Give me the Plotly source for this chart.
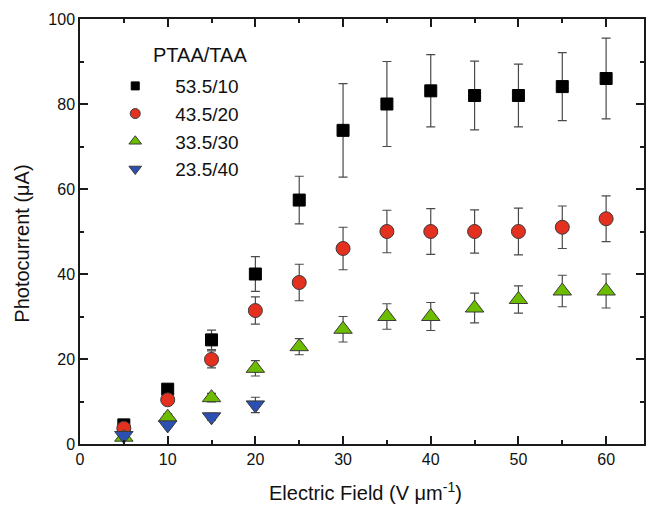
import plotly.graph_objects as go

# Data
field = [5, 10, 15, 20, 25, 30, 35, 40, 45, 50, 55, 60]
field_blue = [5, 10, 15, 20]

labels = ["53.5/10", "43.5/20", "33.5/30", "23.5/40"]

i_535 = [4.5, 12.9, 24.5, 40.0, 57.4, 73.8, 80.0, 83.1, 82.0, 82.0, 84.1, 86.0]
e_535 = [0.5, 1.0, 2.3, 4.1, 5.6, 11.0, 10.0, 8.5, 8.1, 7.4, 8.0, 9.5]

i_435 = [3.7, 10.4, 19.9, 31.4, 38.0, 46.0, 50.0, 50.0, 50.0, 50.0, 51.0, 53.0]
e_435 = [0.5, 0.8, 2.0, 3.2, 4.3, 5.0, 5.0, 5.4, 5.1, 5.5, 5.0, 5.4]

i_335 = [1.6, 6.3, 10.9, 17.8, 22.9, 27.0, 30.0, 30.0, 32.0, 34.0, 36.0, 36.0]
e_335 = [0.4, 0.8, 1.0, 1.8, 1.9, 3.0, 3.0, 3.3, 3.5, 3.2, 3.7, 4.0]

i_235 = [2.0, 4.5, 6.4, 9.2]
e_235 = [0.4, 0.6, 0.8, 1.8]

colors = ["#000000", "#e3301f", "#6cbd00", "#2c4fb3"]
edges = ["#000000", "#3a3a3a", "#3a3a3a", "#3a3a3a"]
symbols = ["square", "circle", "triangle-up", "triangle-down"]
sizes = [12, 14, 16, 16]
legend_sizes = [8, 10, 11, 11]

series = [
    (field, i_535, e_535),
    (field, i_435, e_435),
    (field, i_335, e_335),
    (field_blue, i_235, e_235),
]

fig = go.Figure()

for k, (xs, ys, es) in enumerate(series):
    fig.add_trace(go.Scatter(
        x=xs, y=ys, mode="markers", name=labels[k], showlegend=False,
        marker=dict(symbol=symbols[k], size=sizes[k], color=colors[k],
                    line=dict(color=edges[k], width=1)),
        error_y=dict(type="data", array=es, visible=True, color="#4a4a4a",
                     thickness=1.2, width=4.5),
    ))

# legend-only entries (smaller symbols, as in the reference legend)
for k in range(4):
    fig.add_trace(go.Scatter(
        x=[None], y=[None], mode="markers", name=labels[k], showlegend=True,
        marker=dict(symbol=symbols[k], size=legend_sizes[k], color=colors[k],
                    line=dict(color=edges[k], width=1)),
    ))

axis_common = dict(
    showgrid=False, zeroline=False, showline=True, mirror="ticks",
    linecolor="#1a1a1a", linewidth=1.5,
    ticks="inside", ticklen=8, tickwidth=1.5, tickcolor="#1a1a1a",
    tickfont=dict(family="Liberation Sans, Arial, sans-serif", size=16, color="#111111"),
)

fig.update_xaxes(range=[0, 64.32], tick0=0, dtick=10,
                 minor=dict(dtick=5, ticks="inside", ticklen=4, tickwidth=1.5, tickcolor="#1a1a1a"),
                 **axis_common)
fig.update_yaxes(range=[0, 100], tick0=0, dtick=20,
                 minor=dict(dtick=10, ticks="inside", ticklen=4, tickwidth=1.5, tickcolor="#1a1a1a"),
                 **axis_common)

font_fam = "Liberation Sans, Arial, sans-serif"

fig.update_layout(
    width=646, height=506,
    margin=dict(l=80, r=0, t=19, b=62),
    paper_bgcolor="white", plot_bgcolor="white",
    font=dict(family=font_fam, color="#111111"),
    legend=dict(
        x=0.027, y=0.887, xanchor="left", yanchor="top",
        bgcolor="rgba(0,0,0,0)", borderwidth=0,
        itemwidth=70, tracegroupgap=0,
        font=dict(family=font_fam, size=19, color="#111111"),
    ),
    annotations=[
        dict(text="PTAA/TAA", xref="paper", yref="paper", x=0.1267, y=0.915,
             xanchor="left", yanchor="middle", showarrow=False,
             font=dict(family=font_fam, size=20, color="#111111")),
        dict(text="Electric Field (V \u03bcm<sup>-1</sup>)", xref="paper", yref="paper",
             x=0.507, y=-0.1106, xanchor="center", yanchor="middle", showarrow=False,
             font=dict(family=font_fam, size=20, color="#111111")),
        dict(text="Photocurrent (\u03bcA)", xref="paper", yref="paper",
             x=-0.1025, y=0.4718, xanchor="center", yanchor="middle", showarrow=False,
             textangle=-90,
             font=dict(family=font_fam, size=20, color="#111111")),
    ],
)

fig.write_html("out.html")
